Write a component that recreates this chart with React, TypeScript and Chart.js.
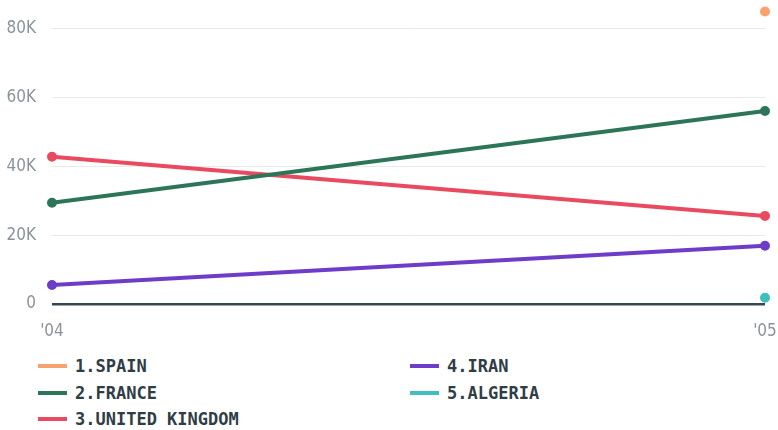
import React, { useEffect, useRef } from "react";
import { Chart, registerables } from "chart.js";

Chart.register(...registerables);

const years = ["'04", "'05"];
const seriesNames = ["1.SPAIN", "2.FRANCE", "3.UNITED KINGDOM", "4.IRAN", "5.ALGERIA"];
const spain = [null, 85000];
const france = [29400, 56100];
const unitedKingdom = [42800, 25600];
const iran = [5500, 16900];
const algeria = [null, 1800];
const colors = ["#f7a26f", "#2d7558", "#ea4a60", "#6e3cc9", "#3fbfbf"];
const yTicks = [0, 20000, 40000, 60000, 80000];

const allValues = [spain, france, unitedKingdom, iran, algeria];

export default function App() {
  const ref = useRef<HTMLCanvasElement | null>(null);
  useEffect(() => {
    if (!ref.current) return;
    const tickFont = { family: "'DejaVu Sans Condensed', 'DejaVu Sans', sans-serif", size: 17 };
    const zeroPad = (s: any) => { s.paddingLeft = 0; s.paddingRight = 0; s.paddingTop = 0; s.paddingBottom = 0; };
    const chart = new Chart(ref.current, {
      type: "line",
      data: {
        labels: years,
        datasets: allValues.map((vals, i) => ({
          label: seriesNames[i],
          data: vals as any,
          borderColor: colors[i],
          backgroundColor: colors[i],
          pointBackgroundColor: colors[i],
          pointBorderColor: colors[i],
          borderWidth: 4,
          pointRadius: 4,
          pointBorderWidth: 2,
          tension: 0,
          clip: false as any,
        })),
      },
      options: {
        animation: false,
        responsive: false,
        maintainAspectRatio: false,
        layout: { padding: { top: 8, right: 13, left: 0, bottom: 0 } },
        plugins: { legend: { display: false }, tooltip: { enabled: false } },
        scales: {
          x: {
            offset: false,
            grid: { display: false, drawTicks: false },
            border: { display: false },
            ticks: { color: "#8a9399", font: tickFont, padding: 17, maxRotation: 0, autoSkip: false },
            afterFit: (s: any) => { s.height = 41; zeroPad(s); },
          },
          y: {
            min: 0,
            max: 86000,
            afterBuildTicks: (s: any) => { s.ticks = yTicks.map((v) => ({ value: v })); },
            grid: {
              drawTicks: false,
              color: (c: any) => (c.tick && c.tick.value === 0 ? "#37474f" : "#e9e9e9"),
              lineWidth: (c: any) => (c.tick && c.tick.value === 0 ? 2.5 : 1),
            },
            border: { display: false },
            ticks: {
              color: "#8a9399",
              font: tickFont,
              padding: 16,
              callback: (v: any) => (v === 0 ? "0" : v / 1000 + "K"),
            },
            afterFit: (s: any) => { s.width = 52; zeroPad(s); },
          },
        },
      },
    });
    return () => chart.destroy();
  }, []);

  const legendItem = (i: number) => (
    <div key={i} style={{ display: "flex", alignItems: "center", height: 26.5 }}>
      <span style={{ display: "inline-block", width: 29, height: 4, background: colors[i], marginRight: 8 }} />
      <span style={{ fontFamily: "'DejaVu Sans Mono', monospace", fontWeight: "bold", fontSize: 17, color: "#2f3d45" }}>
        {seriesNames[i]}
      </span>
    </div>
  );

  return (
    <div style={{ position: "absolute", left: 0, top: 0, width: 778, height: 430, overflow: "hidden", background: "#fff" }}>
      <canvas ref={ref} width={778} height={345} style={{ display: "block" }} />
      <div style={{ position: "absolute", left: 38, top: 353, display: "grid", gridTemplateColumns: "372px 300px", gridTemplateRows: "26.5px 26.5px 26.5px", gridAutoFlow: "column" }}>
        {[0, 1, 2, 3, 4].map(legendItem)}
      </div>
    </div>
  );
}
